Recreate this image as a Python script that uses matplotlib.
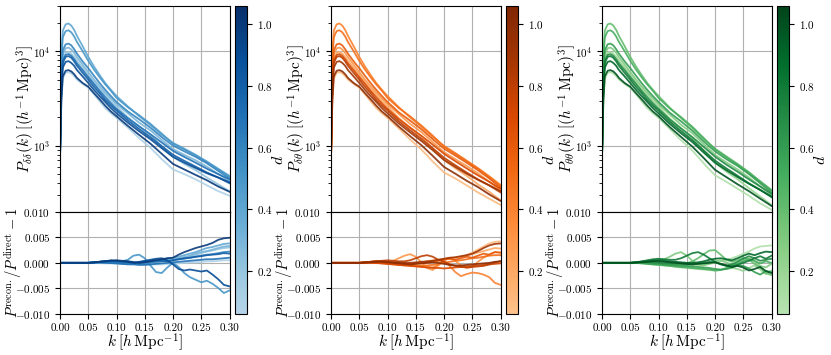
## three panels: P(k) curves coloured by d, with the recon/direct ratio underneath
import matplotlib
matplotlib.use("Agg")
import matplotlib.pyplot as plt
import numpy as np
from matplotlib.colors import ListedColormap, Normalize
from matplotlib.cm import ScalarMappable

plt.rcParams["font.family"] = "serif"
plt.rcParams["font.serif"] = ["cmr10"]
plt.rcParams["mathtext.fontset"] = "cm"
plt.rcParams["axes.formatter.use_mathtext"] = True
plt.rcParams["axes.unicode_minus"] = True

## values
d_values = [0.1, 0.2, 0.3, 0.4, 0.5, 0.6, 0.7, 0.8, 0.9, 1.0]

## power spectra, low k part (same in all three panels)
k_lo = [0.0, 0.0025, 0.005, 0.01, 0.015, 0.02, 0.025, 0.03, 0.04, 0.05, 0.06, 0.07, 0.08, 0.09, 0.10]
pk_lo = [
    [760, 3000, 5100, 5900, 6000, 5800, 5450, 5000, 4500, 4100, 3500, 2950, 2500, 2200, 1970],
    [760, 4900, 8300, 9600, 9800, 9400, 8700, 7900, 6700, 5600, 4700, 4000, 3450, 2950, 2600],
    [760, 5500, 9300, 10700, 10900, 10400, 9600, 8600, 7200, 6000, 5000, 4250, 3650, 3150, 2750],
    [760, 9800, 16500, 19200, 19600, 18600, 16800, 14500, 11300, 8700, 6900, 5600, 4600, 3900, 3350],
    [760, 8300, 14000, 16300, 16600, 15800, 14300, 12500, 10000, 7900, 6400, 5300, 4450, 3800, 3200],
    [760, 6000, 10200, 11800, 12000, 11500, 10500, 9400, 7800, 6600, 5500, 4600, 3900, 3350, 2900],
    [760, 4700, 7900, 9100, 9300, 8900, 8200, 7400, 6300, 5300, 4500, 3800, 3250, 2800, 2450],
    [760, 4400, 7500, 8700, 8850, 8500, 7800, 7000, 5900, 5000, 4200, 3600, 3050, 2650, 2350],
    [760, 3900, 6700, 7700, 7830, 7500, 7000, 6300, 5400, 4600, 3900, 3350, 2900, 2500, 2200],
    [760, 3200, 5400, 6200, 6290, 6100, 5700, 5200, 4600, 4200, 3600, 3100, 2650, 2300, 2050],
]

## power spectra, high k part (one table per panel)
k_hi = [0.12, 0.14, 0.16, 0.18, 0.20, 0.22, 0.24, 0.26, 0.28, 0.30]
pdd_hi = [
    [1550, 1200, 950, 720, 560, 500, 440, 380, 330, 295],
    [2000, 1600, 1300, 980, 760, 640, 550, 460, 390, 330],
    [2200, 1750, 1450, 1150, 920, 800, 700, 600, 500, 420],
    [2600, 2050, 1650, 1300, 1070, 930, 800, 680, 570, 480],
    [2550, 2100, 1700, 1340, 1050, 910, 790, 670, 560, 470],
    [2300, 1900, 1550, 1230, 1000, 870, 760, 650, 540, 450],
    [1950, 1600, 1320, 1080, 880, 760, 660, 570, 500, 440],
    [1850, 1500, 1230, 990, 800, 690, 600, 520, 460, 400],
    [1750, 1420, 1170, 940, 760, 660, 580, 510, 460, 410],
    [1620, 1300, 1050, 820, 640, 560, 490, 430, 370, 325],
]
pdt_hi = [
    [1520, 1160, 910, 680, 520, 450, 380, 320, 275, 236],
    [1960, 1550, 1250, 930, 705, 575, 480, 390, 325, 265],
    [2160, 1700, 1390, 1090, 855, 720, 610, 510, 415, 335],
    [2550, 1990, 1580, 1235, 995, 835, 695, 580, 475, 385],
    [2500, 2040, 1630, 1275, 975, 820, 685, 570, 465, 375],
    [2250, 1840, 1490, 1170, 930, 785, 660, 550, 450, 360],
    [1910, 1550, 1270, 1025, 820, 685, 575, 485, 415, 350],
    [1810, 1455, 1180, 940, 745, 620, 520, 440, 380, 320],
    [1715, 1380, 1120, 895, 705, 595, 505, 435, 380, 330],
    [1590, 1260, 1010, 780, 595, 505, 425, 365, 305, 260],
]
ptt_hi = [
    [1500, 1140, 885, 650, 485, 415, 350, 295, 245, 210],
    [1940, 1520, 1210, 880, 660, 530, 440, 355, 290, 235],
    [2130, 1660, 1350, 1035, 800, 665, 560, 460, 370, 300],
    [2520, 1950, 1535, 1170, 930, 770, 640, 525, 420, 340],
    [2470, 2000, 1580, 1205, 915, 755, 630, 515, 415, 335],
    [2230, 1805, 1440, 1105, 870, 720, 610, 500, 400, 320],
    [1890, 1520, 1230, 970, 765, 630, 530, 440, 370, 310],
    [1795, 1425, 1145, 890, 695, 575, 480, 400, 340, 285],
    [1700, 1350, 1090, 845, 660, 550, 465, 395, 340, 290],
    [1570, 1235, 975, 740, 555, 465, 390, 330, 275, 230],
]

## recon/direct - 1, in units of 1e-3
k_ratio = [0.00, 0.01, 0.02, 0.03, 0.04, 0.05, 0.06, 0.07, 0.08, 0.09, 0.10,
           0.11, 0.12, 0.13, 0.14, 0.15, 0.16, 0.17, 0.18, 0.19, 0.20,
           0.21, 0.22, 0.23, 0.24, 0.25, 0.26, 0.27, 0.28, 0.29, 0.30]
ratio_dd = [
    [0, 0, 0, 0, 0, 0, 0, -0.05, -0.1, -0.1, -0.15, -0.2, -0.2, -0.25, -0.3, -0.3, -0.35, -0.3, -0.3, -0.25, -0.2, -0.1, 0, 0.1, 0.1, 0.2, 0.3, 0.3, 0.4, 0.5, 0.5],
    [0, 0, 0, 0, 0, 0, 0.1, 0.2, 0.1, 0, -0.1, -0.2, -0.1, -0.2, -0.3, -0.2, -0.1, 0, 0.3, 0.5, 0.6, 0.9, 1.1, 1.3, 1.6, 1.9, 2.2, 2.4, 2.7, 2.9, 3.0],
    [0, 0, 0, 0, 0, 0, 0.05, 0.1, 0.2, 0.3, 0.1, 0, -0.1, 0, -0.1, -0.2, 0, 0.2, 0.4, 0.6, 0.7, 0.8, 1.1, 1.4, 1.8, 2.1, 2.3, 2.6, 2.9, 3.2, 3.3],
    [0, 0, 0, 0, 0, 0, 0.1, 0.2, 0.4, 0.3, 0.2, 0.1, 0.3, 0.2, 0, -0.1, 0.1, 0.3, 0.6, 0.9, 1.0, 1.2, 1.5, 1.8, 2.1, 2.5, 2.9, 3.1, 3.4, 3.7, 3.8],
    [0, 0, 0, 0, 0, 0, 0.1, 0.2, 0.3, 0.2, 0.1, 0.3, 0.6, 1.4, 1.6, 0.9, -0.5, -1.8, -2.0, -0.9, 0.0, -0.8, -2.0, -2.8, -3.3, -3.8, -3.5, -4.1, -4.9, -5.9, -5.4],
    [0, 0, 0, 0, 0, 0, 0.05, 0.1, 0.1, 0.05, 0, -0.1, -0.15, -0.2, -0.1, 0, 0.1, 0.2, 0.3, 0.4, 0.5, 0.7, 0.8, 1.0, 1.2, 1.4, 1.6, 1.7, 1.9, 2.1, 2.2],
    [0, 0, 0, 0, 0, 0, 0, 0.05, 0, -0.05, -0.1, -0.2, -0.3, -0.3, -0.4, -0.4, -0.3, -0.2, -0.1, 0, 0.1, 0.2, 0.3, 0.4, 0.5, 0.6, 0.7, 0.7, 0.8, 0.9, 1.0],
    [0, 0, 0, 0, 0, 0, 0.1, 0.2, 0.3, 0.4, 0.3, 0.2, 0.1, 0, 0.1, 0.3, 0.4, 0.5, 0.4, 0.3, 0.5, 0.7, 0.9, 1.0, 1.2, 1.3, 1.5, 1.6, 1.7, 1.9, 1.8],
    [0, 0, 0, 0, 0, 0, 0.1, 0.2, 0.3, 0.5, 0.4, 0.3, 0.2, 0, 0.2, 0.4, 0.6, 0.8, 0.9, 0.5, -0.3, -1.2, -1.5, -1.3, -1.5, -1.7, -1.5, -2.3, -3.2, -4.3, -4.6],
    [0, 0, 0, 0, 0, 0, 0.1, 0.2, 0.3, 0.4, 0.5, 0.4, 0.3, 0.1, 0, 0.1, 0.3, 0.5, 0.7, 0.9, 1.0, 1.6, 2.1, 2.5, 2.9, 3.2, 3.5, 3.9, 4.5, 4.8, 4.9],
]
ratio_dt = [
    [0, 0, 0, 0, 0, 0, 0.05, 0.1, 0.1, 0, -0.1, -0.2, -0.3, -0.3, -0.4, -0.3, -0.2, 0, 0.3, 0.5, 0.7, 0.8, 1.0, 1.2, 1.5, 2.0, 2.6, 3.2, 3.8, 4.1, 4.2],
    [0, 0, 0, 0, 0, 0, 0.1, 0.2, 0.2, 0.1, 0, -0.1, -0.1, -0.2, -0.3, -0.2, 0, 0.3, 0.5, 0.6, 0.8, 0.9, 1.0, 1.2, 1.4, 1.7, 2.0, 2.3, 2.6, 2.9, 2.8],
    [0, 0, 0, 0, 0, 0, 0.1, 0.2, 0.4, 0.3, 0.2, 0.4, 0.9, 1.4, 1.7, 1.2, 0.1, -1.0, -1.4, -0.5, 0.6, 1.0, 0.4, -0.5, -1.0, -0.8, 0.2, 1.0, 1.6, 2.1, 2.0],
    [0, 0, 0, 0, 0, 0, 0.05, 0.1, 0.1, 0, -0.1, -0.2, -0.3, -0.4, -0.5, -0.6, -0.7, -0.8, -0.9, -0.4, 0.5, -0.6, -1.8, -2.6, -2.2, -1.9, -2.0, -2.3, -2.8, -3.9, -4.3],
    [0, 0, 0, 0, 0, 0, 0, 0.05, 0, -0.1, -0.2, -0.3, -0.4, -0.5, -0.5, -0.6, -0.6, -0.5, -0.4, -0.2, 0, 0.2, 0.4, 0.5, 0.7, 0.9, 1.0, 1.2, 1.4, 1.5, 1.5],
    [0, 0, 0, 0, 0, 0, 0.1, 0.2, 0.2, 0.1, 0, 0, -0.1, -0.2, -0.2, -0.1, 0, 0.1, 0.2, 0.4, 0.6, 0.8, 0.6, 0.9, 1.2, 1.0, 1.4, 1.8, 1.6, 2.1, 2.0],
    [0, 0, 0, 0, 0, 0, 0, 0, -0.05, -0.1, -0.2, -0.3, -0.4, -0.5, -0.6, -0.7, -0.8, -0.9, -1.0, -1.0, -1.1, -1.0, -0.9, -0.8, -0.7, -0.6, -0.5, -0.4, -0.3, -0.2, -0.1],
    [0, 0, 0, 0, 0, 0, 0.1, 0.2, 0.3, 0.4, 0.5, 0.4, 0.3, 0.3, 0.5, 0.9, 1.3, 1.5, 1.2, 0.6, 0.2, -0.3, -0.6, -0.8, -0.9, -0.8, -0.7, -0.6, -0.3, 0.1, 0.3],
    [0, 0, 0, 0, 0, 0, 0.1, 0.2, 0.3, 0.3, 0.2, 0.1, 0.1, 0, 0, 0.1, 0.2, 0.3, 0.4, 0.6, 0.8, 1.0, 1.1, 1.3, 1.5, 1.8, 2.3, 2.9, 3.4, 3.7, 3.8],
    [0, 0, 0, 0, 0, 0, 0.05, 0.1, 0.2, 0.2, 0.1, 0, -0.1, -0.2, -0.3, -0.2, -0.1, 0, 0.1, 0.0, -0.2, -0.4, -0.5, -0.5, -0.4, -0.3, -0.2, -0.1, 0, 0.2, 0.3],
]
ratio_tt = [
    [0, 0, 0, 0, 0, 0, 0, 0, -0.1, -0.2, -0.3, -0.4, -0.5, -0.6, -0.6, -0.7, -0.6, -0.5, -0.4, -0.2, 0, 0.3, 0.6, 0.9, 1.3, 1.8, 2.2, 2.8, 3.2, 3.3, 3.4],
    [0, 0, 0, 0, 0, 0, 0, -0.1, -0.2, -0.3, -0.4, -0.5, -0.6, -0.8, -0.9, -1.0, -1.1, -1.2, -1.3, -1.4, -1.5, -1.4, -1.2, -1.0, -1.2, -1.6, -1.0, -0.5, -1.3, -2.2, -1.5],
    [0, 0, 0, 0, 0, 0, 0.1, 0.2, 0.3, 0.4, 0.5, 0.7, 1.2, 1.8, 2.1, 1.4, 0.4, -0.3, -0.5, -0.2, 0.3, 0.5, 0.1, -0.4, -0.2, 0.4, 0.9, 0.3, -0.6, -0.9, -0.2],
    [0, 0, 0, 0, 0, 0, 0.05, 0.1, 0.1, 0, -0.1, -0.2, -0.3, -0.3, -0.2, -0.1, 0.3, 0.9, 1.7, 2.4, 2.5, 1.6, 0.6, 0.2, 0.5, 1.0, 0.6, -0.2, -0.9, -2.0, -2.4],
    [0, 0, 0, 0, 0, 0, 0, -0.1, -0.2, -0.3, -0.4, -0.5, -0.6, -0.7, -0.8, -0.9, -1.0, -1.1, -1.2, -1.3, -1.5, -1.4, -1.0, -0.6, -0.2, 0.3, 0.7, 0.4, -0.1, 0.3, 0.0],
    [0, 0, 0, 0, 0, 0, 0, 0, -0.1, -0.2, -0.2, -0.3, -0.4, -0.5, -0.6, -0.6, -0.7, -0.8, -0.9, -1.0, -1.2, -1.3, -1.2, -0.9, -0.5, -0.6, -1.1, -1.8, -2.3, -1.6, -1.8],
    [0, 0, 0, 0, 0, 0, 0.1, 0.2, 0.2, 0.1, 0, -0.1, -0.1, -0.2, -0.2, -0.3, -0.2, -0.1, 0, 0.2, 0.1, -0.2, -0.5, -0.3, 0.2, 0.8, 1.3, 0.9, 0.4, 0.6, 0.8],
    [0, 0, 0, 0, 0, 0, 0.1, 0.3, 0.5, 0.7, 0.8, 0.7, 0.6, 0.6, 0.9, 1.4, 1.9, 2.1, 1.6, 0.9, 0.2, -0.3, -0.6, -0.7, -0.4, 0, 0.4, 0.9, 1.3, 0.8, 1.4],
    [0, 0, 0, 0, 0, 0, 0.1, 0.2, 0.3, 0.4, 0.5, 0.4, 0.3, 0.2, 0.1, 0, 0, 0.1, 0.3, 0.6, 0.8, 0.9, 0.7, 0.5, 0.9, 1.4, 1.8, 1.5, 1.9, 2.2, 2.1],
    [0, 0, 0, 0, 0, 0, 0.05, 0.1, 0.2, 0.3, 0.3, 0.2, 0.1, 0, -0.1, -0.2, -0.3, -0.2, -0.1, 0, 0.1, -0.2, -0.5, -0.8, -0.6, -0.9, -1.5, -1.2, -0.8, -1.6, -2.0],
]

top_labels = [r"$P_{\delta\delta}(k)\;[(h^{-1}\,\mathrm{Mpc})^3]$",
              r"$P_{\delta\theta}(k)\;[(h^{-1}\,\mathrm{Mpc})^3]$",
              r"$P_{\theta\theta}(k)\;[(h^{-1}\,\mathrm{Mpc})^3]$"]
cmap_names = ["Blues", "Oranges", "Greens"]
hi_tables = [pdd_hi, pdt_hi, ptt_hi]
ratio_tables = [ratio_dd, ratio_dt, ratio_tt]

## figure layout in pixels (831 x 355)
W, H = 831, 355
fig = plt.figure(figsize=(W / 100, H / 100), dpi=100)

def px_box(x0, y0, x1, y1):
    return [x0 / W, 1 - y1 / H, (x1 - x0) / W, (y1 - y0) / H]

panel_left = [60, 331, 602]
ax_w = 169.5
k_top = np.array(k_lo + k_hi)
k_r = np.array(k_ratio)

for i in range(3):
    x0 = panel_left[i]
    ax_top = fig.add_axes(px_box(x0, 6, x0 + ax_w, 211.7))
    ax_bot = fig.add_axes(px_box(x0, 211.7, x0 + ax_w, 314), sharex=ax_top)
    cax = fig.add_axes(px_box(x0 + 175, 6, x0 + 187, 314))

    ## truncated colormap, light end is not white
    base = plt.get_cmap(cmap_names[i])
    cmap = ListedColormap(base(np.linspace(0.3, 1.0, 256)))
    norm = Normalize(vmin=0.06, vmax=1.06)

    for j, d in enumerate(d_values):
        color = cmap(norm(d))
        pk = np.array(pk_lo[j] + hi_tables[i][j])
        ax_top.plot(k_top, pk, color=color, lw=1.3, alpha=0.9)
        ax_bot.plot(k_r, np.array(ratio_tables[i][j]) * 1e-3, color=color, lw=1.3, alpha=0.9)

    ## style the top axes
    ax_top.set_yscale("log")
    ax_top.set_ylim(200, 3e4)
    ax_top.set_xlim(0, 0.3)
    ax_top.grid(True, color="#b0b0b0", lw=0.8)
    ax_top.tick_params(labelbottom=False, labelsize=8)
    ax_top.set_ylabel(top_labels[i], fontsize=11)
    ax_top.yaxis.set_label_coords(-0.135, 0.5)

    ## style the ratio axes
    ax_bot.set_ylim(-0.010, 0.010)
    ax_bot.set_yticks([-0.010, -0.005, 0.0, 0.005, 0.010])
    ax_bot.set_yticklabels(["$-0.010$", "$-0.005$", "$0.000$", "$0.005$", "$0.010$"])
    ax_bot.set_xticks([0.0, 0.05, 0.10, 0.15, 0.20, 0.25, 0.30])
    ax_bot.set_xticklabels(["0.00", "0.05", "0.10", "0.15", "0.20", "0.25", "0.30"])
    ax_bot.grid(True, color="#b0b0b0", lw=0.8)
    ax_bot.tick_params(labelsize=8)
    ax_bot.set_xlabel(r"$k\;[h\,\mathrm{Mpc}^{-1}]$", fontsize=11)
    ax_bot.xaxis.set_label_coords(0.5, -0.165)
    ax_bot.set_ylabel(r"$P^{\rm recon.}/P^{\rm direct}-1$", fontsize=10.5)
    ax_bot.yaxis.set_label_coords(-0.215, 0.5)

    ## colorbar for d
    sm = ScalarMappable(norm=norm, cmap=cmap)
    cb = fig.colorbar(sm, cax=cax)
    cb.set_ticks([0.2, 0.4, 0.6, 0.8, 1.0])
    cb.ax.tick_params(labelsize=8)
    cb.set_label(r"$d$", fontsize=11.5, labelpad=-1)

plt.savefig("out.png", dpi=100)
